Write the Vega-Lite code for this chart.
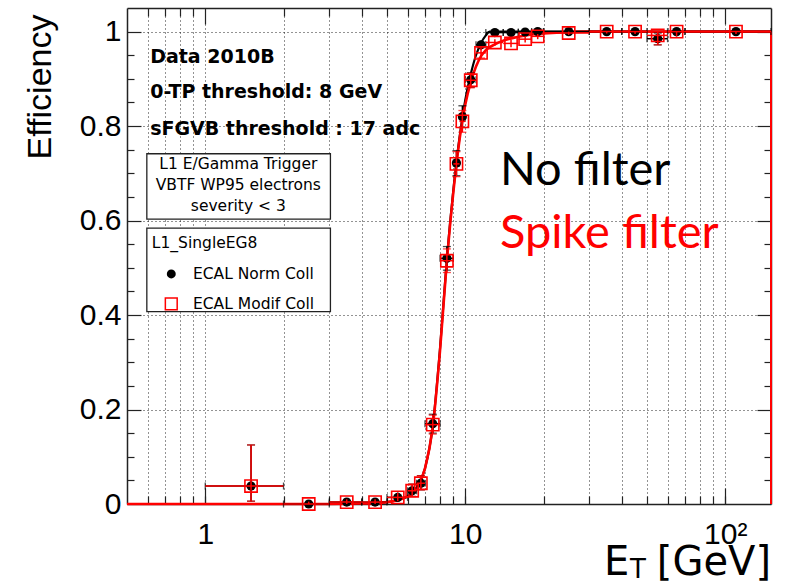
{
  "$schema": "https://vega.github.io/schema/vega-lite/v6.json",
  "width": 644,
  "height": 496,
  "autosize": {"type": "none"},
  "padding": {"left": 127, "top": 8, "right": 14, "bottom": 81},
  "background": "white",
  "config": {
    "view": {"stroke": null},
    "axis": {"labelFlush": false, "labelOverlap": false, "title": null, "tickColor": "#222", "domainColor": "#222", "domainWidth": 1.5, "tickWidth": 1.2}
  },
  "resolve": {"axis": {"x": "independent", "y": "independent"}},
  "datasets": {
    "pts": [
      {"s": "norm", "x": 1.5, "xlo": 1, "xhi": 2, "y": 0.038, "ylo": 0.006, "yhi": 0.125},
      {"s": "norm", "x": 2.5, "xlo": 2, "xhi": 3, "y": 0, "ylo": 0, "yhi": 0.005},
      {"s": "norm", "x": 3.5, "xlo": 3, "xhi": 4, "y": 0.004, "ylo": 0, "yhi": 0.01},
      {"s": "norm", "x": 4.5, "xlo": 4, "xhi": 5, "y": 0.004, "ylo": 0, "yhi": 0.01},
      {"s": "norm", "x": 5.5, "xlo": 5, "xhi": 6, "y": 0.014, "ylo": 0.006, "yhi": 0.024},
      {"s": "norm", "x": 6.25, "xlo": 6, "xhi": 6.5, "y": 0.028, "ylo": 0.016, "yhi": 0.042},
      {"s": "norm", "x": 6.75, "xlo": 6.5, "xhi": 7, "y": 0.044, "ylo": 0.03, "yhi": 0.06},
      {"s": "norm", "x": 7.5, "xlo": 7, "xhi": 8, "y": 0.17, "ylo": 0.15, "yhi": 0.19},
      {"s": "norm", "x": 8.5, "xlo": 8, "xhi": 9, "y": 0.52, "ylo": 0.495, "yhi": 0.545},
      {"s": "norm", "x": 9.25, "xlo": 9, "xhi": 9.5, "y": 0.722, "ylo": 0.695, "yhi": 0.748},
      {"s": "norm", "x": 9.75, "xlo": 9.5, "xhi": 10, "y": 0.82, "ylo": 0.797, "yhi": 0.843},
      {"s": "norm", "x": 10.5, "xlo": 10, "xhi": 11, "y": 0.898, "ylo": 0.882, "yhi": 0.913},
      {"s": "norm", "x": 11.5, "xlo": 11, "xhi": 12, "y": 0.972, "ylo": 0.962, "yhi": 0.981},
      {"s": "norm", "x": 13, "xlo": 12, "xhi": 14, "y": 0.998, "ylo": 0.993, "yhi": 1},
      {"s": "norm", "x": 15, "xlo": 14, "xhi": 16, "y": 0.998, "ylo": 0.993, "yhi": 1},
      {"s": "norm", "x": 17, "xlo": 16, "xhi": 18, "y": 0.999, "ylo": 0.995, "yhi": 1},
      {"s": "norm", "x": 19, "xlo": 18, "xhi": 20, "y": 1, "ylo": 0.996, "yhi": 1},
      {"s": "norm", "x": 25, "xlo": 20, "xhi": 30, "y": 1, "ylo": 0.997, "yhi": 1},
      {"s": "norm", "x": 35, "xlo": 30, "xhi": 40, "y": 1, "ylo": 0.996, "yhi": 1},
      {"s": "norm", "x": 45, "xlo": 40, "xhi": 50, "y": 1, "ylo": 0.995, "yhi": 1},
      {"s": "norm", "x": 55, "xlo": 50, "xhi": 60, "y": 0.985, "ylo": 0.972, "yhi": 0.997},
      {"s": "norm", "x": 65, "xlo": 60, "xhi": 70, "y": 1, "ylo": 0.99, "yhi": 1},
      {"s": "norm", "x": 110, "xlo": 70, "xhi": 150, "y": 1, "ylo": 0.995, "yhi": 1},
      {"s": "modif", "x": 1.5, "xlo": 1, "xhi": 2, "y": 0.038, "ylo": 0.006, "yhi": 0.125},
      {"s": "modif", "x": 2.5, "xlo": 2, "xhi": 3, "y": 0, "ylo": 0, "yhi": 0.005},
      {"s": "modif", "x": 3.5, "xlo": 3, "xhi": 4, "y": 0.004, "ylo": 0, "yhi": 0.01},
      {"s": "modif", "x": 4.5, "xlo": 4, "xhi": 5, "y": 0.004, "ylo": 0, "yhi": 0.01},
      {"s": "modif", "x": 5.5, "xlo": 5, "xhi": 6, "y": 0.014, "ylo": 0.006, "yhi": 0.024},
      {"s": "modif", "x": 6.25, "xlo": 6, "xhi": 6.5, "y": 0.028, "ylo": 0.016, "yhi": 0.042},
      {"s": "modif", "x": 6.75, "xlo": 6.5, "xhi": 7, "y": 0.044, "ylo": 0.03, "yhi": 0.06},
      {"s": "modif", "x": 7.5, "xlo": 7, "xhi": 8, "y": 0.168, "ylo": 0.148, "yhi": 0.188},
      {"s": "modif", "x": 8.5, "xlo": 8, "xhi": 9, "y": 0.515, "ylo": 0.49, "yhi": 0.54},
      {"s": "modif", "x": 9.25, "xlo": 9, "xhi": 9.5, "y": 0.72, "ylo": 0.693, "yhi": 0.746},
      {"s": "modif", "x": 9.75, "xlo": 9.5, "xhi": 10, "y": 0.81, "ylo": 0.787, "yhi": 0.833},
      {"s": "modif", "x": 10.5, "xlo": 10, "xhi": 11, "y": 0.897, "ylo": 0.881, "yhi": 0.912},
      {"s": "modif", "x": 11.5, "xlo": 11, "xhi": 12, "y": 0.955, "ylo": 0.944, "yhi": 0.966},
      {"s": "modif", "x": 13, "xlo": 12, "xhi": 14, "y": 0.977, "ylo": 0.97, "yhi": 0.984},
      {"s": "modif", "x": 15, "xlo": 14, "xhi": 16, "y": 0.975, "ylo": 0.967, "yhi": 0.983},
      {"s": "modif", "x": 17, "xlo": 16, "xhi": 18, "y": 0.984, "ylo": 0.977, "yhi": 0.99},
      {"s": "modif", "x": 19, "xlo": 18, "xhi": 20, "y": 0.99, "ylo": 0.984, "yhi": 0.995},
      {"s": "modif", "x": 25, "xlo": 20, "xhi": 30, "y": 0.997, "ylo": 0.993, "yhi": 1},
      {"s": "modif", "x": 35, "xlo": 30, "xhi": 40, "y": 1, "ylo": 0.996, "yhi": 1},
      {"s": "modif", "x": 45, "xlo": 40, "xhi": 50, "y": 1, "ylo": 0.995, "yhi": 1},
      {"s": "modif", "x": 55, "xlo": 50, "xhi": 60, "y": 0.992, "ylo": 0.972, "yhi": 1},
      {"s": "modif", "x": 65, "xlo": 60, "xhi": 70, "y": 1, "ylo": 0.99, "yhi": 1},
      {"s": "modif", "x": 110, "xlo": 70, "xhi": 150, "y": 1, "ylo": 0.995, "yhi": 1}
    ],
    "fits": [
      {"s": "norm", "x": 0.5, "y": 0}, {"s": "norm", "x": 1, "y": 0}, {"s": "norm", "x": 2, "y": 0},
      {"s": "norm", "x": 3, "y": 0}, {"s": "norm", "x": 4, "y": 0.001}, {"s": "norm", "x": 5, "y": 0.004},
      {"s": "norm", "x": 5.5, "y": 0.008}, {"s": "norm", "x": 6, "y": 0.016}, {"s": "norm", "x": 6.5, "y": 0.034},
      {"s": "norm", "x": 7, "y": 0.075}, {"s": "norm", "x": 7.5, "y": 0.165}, {"s": "norm", "x": 8, "y": 0.33},
      {"s": "norm", "x": 8.5, "y": 0.52}, {"s": "norm", "x": 9, "y": 0.665}, {"s": "norm", "x": 9.5, "y": 0.775},
      {"s": "norm", "x": 10, "y": 0.855}, {"s": "norm", "x": 10.5, "y": 0.91}, {"s": "norm", "x": 11, "y": 0.95},
      {"s": "norm", "x": 11.5, "y": 0.976}, {"s": "norm", "x": 12, "y": 0.992}, {"s": "norm", "x": 12.4, "y": 1},
      {"s": "norm", "x": 150, "y": 1},
      {"s": "modif", "x": 0.5, "y": 0}, {"s": "modif", "x": 1, "y": 0}, {"s": "modif", "x": 2, "y": 0},
      {"s": "modif", "x": 3, "y": 0}, {"s": "modif", "x": 4, "y": 0.001}, {"s": "modif", "x": 5, "y": 0.004},
      {"s": "modif", "x": 5.5, "y": 0.008}, {"s": "modif", "x": 6, "y": 0.016}, {"s": "modif", "x": 6.5, "y": 0.034},
      {"s": "modif", "x": 7, "y": 0.075}, {"s": "modif", "x": 7.5, "y": 0.163}, {"s": "modif", "x": 8, "y": 0.325},
      {"s": "modif", "x": 8.5, "y": 0.515}, {"s": "modif", "x": 9, "y": 0.66}, {"s": "modif", "x": 9.5, "y": 0.77},
      {"s": "modif", "x": 10, "y": 0.845}, {"s": "modif", "x": 10.5, "y": 0.893}, {"s": "modif", "x": 11, "y": 0.926},
      {"s": "modif", "x": 11.5, "y": 0.948}, {"s": "modif", "x": 12, "y": 0.961}, {"s": "modif", "x": 13, "y": 0.973},
      {"s": "modif", "x": 14, "y": 0.981}, {"s": "modif", "x": 16, "y": 0.989}, {"s": "modif", "x": 18, "y": 0.994},
      {"s": "modif", "x": 20, "y": 0.996}, {"s": "modif", "x": 25, "y": 0.999}, {"s": "modif", "x": 30, "y": 1},
      {"s": "modif", "x": 150, "y": 1}
    ],
    "edge": [{"x": 150, "y": 0, "y2": 1}],
    "boxes": [
      {"x": 0.596, "x2": 3.03, "y": 0.603, "y2": 0.7415},
      {"x": 0.596, "x2": 3.03, "y": 0.4074, "y2": 0.584}
    ],
    "headers": [
      {"t": "Data 2010B", "x": 0.614, "y": 0.934},
      {"t": "0-TP threshold: 8 GeV", "x": 0.614, "y": 0.8595},
      {"t": "sFGVB threshold : 17 adc", "x": 0.614, "y": 0.782}
    ],
    "boxtext": [
      {"t": "L1 E/Gamma Trigger", "x": 1.34, "y": 0.7095},
      {"t": "VBTF WP95 electrons", "x": 1.34, "y": 0.6638},
      {"t": "severity < 3", "x": 1.34, "y": 0.6193}
    ],
    "legendtext": [
      {"t": "L1_SingleEG8", "x": 0.623, "y": 0.5417},
      {"t": "ECAL Norm Coll", "x": 0.897, "y": 0.476},
      {"t": "ECAL Modif Coll", "x": 0.897, "y": 0.4125}
    ],
    "legendmarks": [
      {"s": "norm", "x": 0.74, "y": 0.487},
      {"s": "modif", "x": 0.74, "y": 0.4237}
    ],
    "big": [
      {"s": "norm", "t": "No filter", "x": 13.6, "y": 0.676},
      {"s": "modif", "t": "Spike filter", "x": 13.6, "y": 0.542}
    ],
    "xtitle": [
      {"part": "main", "t": "E", "x": 34.2, "y": -0.1503},
      {"part": "sub", "t": "T", "x": 43.05, "y": -0.1577},
      {"part": "unit", "t": "[GeV]", "x": 150, "y": -0.1503}
    ]
  },
  "layer": [
    {
      "data": {"name": "edge"},
      "mark": {"type": "point", "opacity": 0},
      "encoding": {
        "x": {"field": "x", "type": "quantitative", "scale": {"type": "log", "domain": [0.5, 150], "nice": false},
          "axis": {"orient": "bottom", "values": [1, 10, 100], "ticks": false, "grid": false, "domain": true,
            "labelFont": "Liberation Sans", "labelFontSize": 30, "labelColor": "#000", "labelPadding": 15, "labelAngle": 0,
            "labelExpr": "datum.value >= 100 ? '10²' : datum.value >= 10 ? '10' : '1'"}},
        "y": {"field": "y", "type": "quantitative", "scale": {"domain": [0, 1.05], "nice": false, "zero": false},
          "axis": {"orient": "left", "values": [0, 0.2, 0.4, 0.6, 0.8, 1], "ticks": false, "grid": true,
            "gridColor": "#000", "gridDash": [1, 3], "gridOpacity": 0.85, "domain": true,
            "labelFont": "Liberation Sans", "labelFontSize": 30, "labelColor": "#000", "labelPadding": 6,
            "labelExpr": "datum.value == 0 ? '0' : datum.value == 1 ? '1' : format(datum.value, '.1f')",
            "title": "Efficiency", "titleFont": "Liberation Sans", "titleFontSize": 34, "titleFontWeight": "normal",
            "titleColor": "#000", "titleAngle": -90, "titleAlign": "right", "titleBaseline": "middle", "titleX": -87, "titleY": 6}}
      }
    },
    {
      "data": {"name": "edge"},
      "mark": {"type": "point", "opacity": 0},
      "encoding": {
        "x": {"field": "x", "type": "quantitative", "scale": {"type": "log", "domain": [0.5, 150], "nice": false},
          "axis": {"orient": "bottom", "values": [1, 10, 100], "labels": false, "domain": false, "grid": false, "tickSize": -16}},
        "y": {"field": "y", "type": "quantitative", "scale": {"domain": [0, 1.05], "nice": false, "zero": false},
          "axis": {"orient": "left", "values": [0.2, 0.4, 0.6, 0.8, 1], "labels": false, "domain": false, "grid": false, "tickSize": -14}}
      }
    },
    {
      "data": {"name": "edge"},
      "mark": {"type": "point", "opacity": 0},
      "encoding": {
        "x": {"field": "x", "type": "quantitative", "scale": {"type": "log", "domain": [0.5, 150], "nice": false},
          "axis": {"orient": "bottom", "values": [0.6, 0.7, 0.8, 0.9, 1, 2, 3, 4, 5, 6, 7, 8, 9, 10, 20, 30, 40, 50, 60, 70, 80, 90, 100],
            "labels": false, "domain": false, "grid": true, "gridColor": "#000", "gridDash": [1, 3], "gridOpacity": 0.85, "tickSize": -8}},
        "y": {"field": "y", "type": "quantitative", "scale": {"domain": [0, 1.05], "nice": false, "zero": false},
          "axis": {"orient": "left", "values": [0.05, 0.1, 0.15, 0.25, 0.3, 0.35, 0.45, 0.5, 0.55, 0.65, 0.7, 0.75, 0.85, 0.9, 0.95],
            "labels": false, "domain": false, "grid": false, "tickSize": -7}}
      }
    },
    {
      "data": {"name": "edge"},
      "mark": {"type": "point", "opacity": 0},
      "encoding": {
        "x": {"field": "x", "type": "quantitative", "scale": {"type": "log", "domain": [0.5, 150], "nice": false},
          "axis": {"orient": "top", "values": [1, 10, 100], "labels": false, "domain": true, "grid": false, "tickSize": -16}},
        "y": {"field": "y", "type": "quantitative", "scale": {"domain": [0, 1.05], "nice": false, "zero": false},
          "axis": {"orient": "right", "values": [0.2, 0.4, 0.6, 0.8, 1], "labels": false, "domain": true, "grid": false, "tickSize": -14}}
      }
    },
    {
      "data": {"name": "edge"},
      "mark": {"type": "point", "opacity": 0},
      "encoding": {
        "x": {"field": "x", "type": "quantitative", "scale": {"type": "log", "domain": [0.5, 150], "nice": false},
          "axis": {"orient": "top", "values": [0.6, 0.7, 0.8, 0.9, 2, 3, 4, 5, 6, 7, 8, 9, 20, 30, 40, 50, 60, 70, 80, 90],
            "labels": false, "domain": false, "grid": false, "tickSize": -8}},
        "y": {"field": "y", "type": "quantitative", "scale": {"domain": [0, 1.05], "nice": false, "zero": false},
          "axis": {"orient": "right", "values": [0.05, 0.1, 0.15, 0.25, 0.3, 0.35, 0.45, 0.5, 0.55, 0.65, 0.7, 0.75, 0.85, 0.9, 0.95],
            "labels": false, "domain": false, "grid": false, "tickSize": -7}}
      }
    },
    {
      "data": {"name": "fits"},
      "transform": [{"filter": "datum.s == 'norm'"}],
      "mark": {"type": "line", "color": "#000", "strokeWidth": 2.2, "interpolate": "monotone"},
      "encoding": {
        "x": {"field": "x", "type": "quantitative", "scale": {"type": "log", "domain": [0.5, 150], "nice": false}, "axis": null},
        "y": {"field": "y", "type": "quantitative", "scale": {"domain": [0, 1.05], "nice": false, "zero": false}, "axis": null}
      }
    },
    {
      "data": {"name": "fits"},
      "transform": [{"filter": "datum.s == 'modif'"}],
      "mark": {"type": "line", "color": "#ff0000", "strokeWidth": 2.6, "interpolate": "monotone"},
      "encoding": {
        "x": {"field": "x", "type": "quantitative", "scale": {"type": "log", "domain": [0.5, 150], "nice": false}, "axis": null},
        "y": {"field": "y", "type": "quantitative", "scale": {"domain": [0, 1.05], "nice": false, "zero": false}, "axis": null}
      }
    },
    {
      "data": {"name": "edge"},
      "mark": {"type": "rule", "color": "#ff0000", "strokeWidth": 2},
      "encoding": {
        "x": {"field": "x", "type": "quantitative", "scale": {"type": "log", "domain": [0.5, 150], "nice": false}, "axis": null},
        "y": {"field": "y", "type": "quantitative", "scale": {"domain": [0, 1.05], "nice": false, "zero": false}, "axis": null},
        "y2": {"field": "y2"}
      }
    },
    {
      "data": {"name": "pts"},
      "transform": [{"filter": "datum.s == 'norm'"}],
      "mark": {"type": "rule", "color": "#000", "strokeWidth": 1.5},
      "encoding": {
        "x": {"field": "xlo", "type": "quantitative", "scale": {"type": "log", "domain": [0.5, 150], "nice": false}, "axis": null},
        "x2": {"field": "xhi"},
        "y": {"field": "y", "type": "quantitative", "scale": {"domain": [0, 1.05], "nice": false, "zero": false}, "axis": null}
      }
    },
    {
      "data": {"name": "pts"},
      "transform": [{"filter": "datum.s == 'norm' && datum.yhi > datum.ylo"}],
      "mark": {"type": "rule", "color": "#000", "strokeWidth": 1.5},
      "encoding": {
        "x": {"field": "x", "type": "quantitative", "scale": {"type": "log", "domain": [0.5, 150], "nice": false}, "axis": null},
        "y": {"field": "ylo", "type": "quantitative", "scale": {"domain": [0, 1.05], "nice": false, "zero": false}, "axis": null},
        "y2": {"field": "yhi"}
      }
    },
    {
      "data": {"name": "pts"},
      "transform": [{"filter": "datum.s == 'norm' && datum.yhi - datum.ylo > 0.02"}, {"fold": ["ylo", "yhi"], "as": ["k", "v"]}],
      "mark": {"type": "tick", "orient": "horizontal", "color": "#000", "size": 8, "thickness": 1.3},
      "encoding": {
        "x": {"field": "x", "type": "quantitative", "scale": {"type": "log", "domain": [0.5, 150], "nice": false}, "axis": null},
        "y": {"field": "v", "type": "quantitative", "scale": {"domain": [0, 1.05], "nice": false, "zero": false}, "axis": null}
      }
    },
    {
      "data": {"name": "pts"},
      "transform": [{"filter": "datum.s == 'norm'"}, {"fold": ["xlo", "xhi"], "as": ["k", "v"]}],
      "mark": {"type": "tick", "orient": "vertical", "color": "#000", "size": 7, "thickness": 1.3},
      "encoding": {
        "x": {"field": "v", "type": "quantitative", "scale": {"type": "log", "domain": [0.5, 150], "nice": false}, "axis": null},
        "y": {"field": "y", "type": "quantitative", "scale": {"domain": [0, 1.05], "nice": false, "zero": false}, "axis": null}
      }
    },
    {
      "data": {"name": "pts"},
      "transform": [{"filter": "datum.s == 'norm'"}],
      "mark": {"type": "point", "shape": "circle", "filled": true, "color": "#000", "size": 85, "opacity": 1},
      "encoding": {
        "x": {"field": "x", "type": "quantitative", "scale": {"type": "log", "domain": [0.5, 150], "nice": false}, "axis": null},
        "y": {"field": "y", "type": "quantitative", "scale": {"domain": [0, 1.05], "nice": false, "zero": false}, "axis": null}
      }
    },
    {
      "data": {"name": "pts"},
      "transform": [{"filter": "datum.s == 'modif'"}],
      "mark": {"type": "rule", "color": "#ff0000", "strokeWidth": 1.5},
      "encoding": {
        "x": {"field": "xlo", "type": "quantitative", "scale": {"type": "log", "domain": [0.5, 150], "nice": false}, "axis": null},
        "x2": {"field": "xhi"},
        "y": {"field": "y", "type": "quantitative", "scale": {"domain": [0, 1.05], "nice": false, "zero": false}, "axis": null}
      }
    },
    {
      "data": {"name": "pts"},
      "transform": [{"filter": "datum.s == 'modif' && datum.yhi > datum.ylo"}],
      "mark": {"type": "rule", "color": "#ff0000", "strokeWidth": 1.5},
      "encoding": {
        "x": {"field": "x", "type": "quantitative", "scale": {"type": "log", "domain": [0.5, 150], "nice": false}, "axis": null},
        "y": {"field": "ylo", "type": "quantitative", "scale": {"domain": [0, 1.05], "nice": false, "zero": false}, "axis": null},
        "y2": {"field": "yhi"}
      }
    },
    {
      "data": {"name": "pts"},
      "transform": [{"filter": "datum.s == 'modif' && datum.yhi - datum.ylo > 0.02"}, {"fold": ["ylo", "yhi"], "as": ["k", "v"]}],
      "mark": {"type": "tick", "orient": "horizontal", "color": "#ff0000", "size": 8, "thickness": 1.3},
      "encoding": {
        "x": {"field": "x", "type": "quantitative", "scale": {"type": "log", "domain": [0.5, 150], "nice": false}, "axis": null},
        "y": {"field": "v", "type": "quantitative", "scale": {"domain": [0, 1.05], "nice": false, "zero": false}, "axis": null}
      }
    },
    {
      "data": {"name": "pts"},
      "transform": [{"filter": "datum.s == 'modif'"}],
      "mark": {"type": "point", "shape": "square", "filled": false, "color": "#ff0000", "size": 150, "strokeWidth": 1.6, "opacity": 1},
      "encoding": {
        "x": {"field": "x", "type": "quantitative", "scale": {"type": "log", "domain": [0.5, 150], "nice": false}, "axis": null},
        "y": {"field": "y", "type": "quantitative", "scale": {"domain": [0, 1.05], "nice": false, "zero": false}, "axis": null}
      }
    },
    {
      "data": {"name": "headers"},
      "mark": {"type": "text", "align": "left", "baseline": "alphabetic", "font": "DejaVu Sans", "fontWeight": "bold", "fontSize": 19, "color": "#000"},
      "encoding": {
        "x": {"field": "x", "type": "quantitative", "scale": {"type": "log", "domain": [0.5, 150], "nice": false}, "axis": null},
        "y": {"field": "y", "type": "quantitative", "scale": {"domain": [0, 1.05], "nice": false, "zero": false}, "axis": null},
        "text": {"field": "t"}
      }
    },
    {
      "data": {"name": "boxes"},
      "mark": {"type": "rect", "fill": "#fff", "stroke": "#222", "strokeWidth": 1.3},
      "encoding": {
        "x": {"field": "x", "type": "quantitative", "scale": {"type": "log", "domain": [0.5, 150], "nice": false}, "axis": null},
        "x2": {"field": "x2"},
        "y": {"field": "y", "type": "quantitative", "scale": {"domain": [0, 1.05], "nice": false, "zero": false}, "axis": null},
        "y2": {"field": "y2"}
      }
    },
    {
      "data": {"name": "boxtext"},
      "mark": {"type": "text", "align": "center", "baseline": "alphabetic", "font": "DejaVu Sans", "fontSize": 15.5, "color": "#000"},
      "encoding": {
        "x": {"field": "x", "type": "quantitative", "scale": {"type": "log", "domain": [0.5, 150], "nice": false}, "axis": null},
        "y": {"field": "y", "type": "quantitative", "scale": {"domain": [0, 1.05], "nice": false, "zero": false}, "axis": null},
        "text": {"field": "t"}
      }
    },
    {
      "data": {"name": "legendtext"},
      "mark": {"type": "text", "align": "left", "baseline": "alphabetic", "font": "DejaVu Sans", "fontSize": 15.5, "color": "#000"},
      "encoding": {
        "x": {"field": "x", "type": "quantitative", "scale": {"type": "log", "domain": [0.5, 150], "nice": false}, "axis": null},
        "y": {"field": "y", "type": "quantitative", "scale": {"domain": [0, 1.05], "nice": false, "zero": false}, "axis": null},
        "text": {"field": "t"}
      }
    },
    {
      "data": {"name": "legendmarks"},
      "transform": [{"filter": "datum.s == 'norm'"}],
      "mark": {"type": "point", "shape": "circle", "filled": true, "color": "#000", "size": 80, "opacity": 1},
      "encoding": {
        "x": {"field": "x", "type": "quantitative", "scale": {"type": "log", "domain": [0.5, 150], "nice": false}, "axis": null},
        "y": {"field": "y", "type": "quantitative", "scale": {"domain": [0, 1.05], "nice": false, "zero": false}, "axis": null}
      }
    },
    {
      "data": {"name": "legendmarks"},
      "transform": [{"filter": "datum.s == 'modif'"}],
      "mark": {"type": "point", "shape": "square", "filled": false, "color": "#ff0000", "size": 140, "strokeWidth": 1.5, "opacity": 1},
      "encoding": {
        "x": {"field": "x", "type": "quantitative", "scale": {"type": "log", "domain": [0.5, 150], "nice": false}, "axis": null},
        "y": {"field": "y", "type": "quantitative", "scale": {"domain": [0, 1.05], "nice": false, "zero": false}, "axis": null}
      }
    },
    {
      "data": {"name": "big"},
      "transform": [{"filter": "datum.s == 'norm'"}],
      "mark": {"type": "text", "align": "left", "baseline": "alphabetic", "font": "Lato", "fontSize": 47, "color": "#000"},
      "encoding": {
        "x": {"field": "x", "type": "quantitative", "scale": {"type": "log", "domain": [0.5, 150], "nice": false}, "axis": null},
        "y": {"field": "y", "type": "quantitative", "scale": {"domain": [0, 1.05], "nice": false, "zero": false}, "axis": null},
        "text": {"field": "t"}
      }
    },
    {
      "data": {"name": "big"},
      "transform": [{"filter": "datum.s == 'modif'"}],
      "mark": {"type": "text", "align": "left", "baseline": "alphabetic", "font": "Lato", "fontSize": 47, "color": "#ff0000"},
      "encoding": {
        "x": {"field": "x", "type": "quantitative", "scale": {"type": "log", "domain": [0.5, 150], "nice": false}, "axis": null},
        "y": {"field": "y", "type": "quantitative", "scale": {"domain": [0, 1.05], "nice": false, "zero": false}, "axis": null},
        "text": {"field": "t"}
      }
    },
    {
      "data": {"name": "xtitle"},
      "transform": [{"filter": "datum.part == 'main'"}],
      "mark": {"type": "text", "align": "left", "baseline": "alphabetic", "font": "DejaVu Sans", "fontSize": 40, "color": "#000"},
      "encoding": {
        "x": {"field": "x", "type": "quantitative", "scale": {"type": "log", "domain": [0.5, 150], "nice": false}, "axis": null},
        "y": {"field": "y", "type": "quantitative", "scale": {"domain": [0, 1.05], "nice": false, "zero": false}, "axis": null},
        "text": {"field": "t"}
      }
    },
    {
      "data": {"name": "xtitle"},
      "transform": [{"filter": "datum.part == 'sub'"}],
      "mark": {"type": "text", "align": "left", "baseline": "alphabetic", "font": "DejaVu Sans", "fontSize": 26, "color": "#000"},
      "encoding": {
        "x": {"field": "x", "type": "quantitative", "scale": {"type": "log", "domain": [0.5, 150], "nice": false}, "axis": null},
        "y": {"field": "y", "type": "quantitative", "scale": {"domain": [0, 1.05], "nice": false, "zero": false}, "axis": null},
        "text": {"field": "t"}
      }
    },
    {
      "data": {"name": "xtitle"},
      "transform": [{"filter": "datum.part == 'unit'"}],
      "mark": {"type": "text", "align": "right", "baseline": "alphabetic", "font": "DejaVu Sans", "fontSize": 40, "color": "#000"},
      "encoding": {
        "x": {"field": "x", "type": "quantitative", "scale": {"type": "log", "domain": [0.5, 150], "nice": false}, "axis": null},
        "y": {"field": "y", "type": "quantitative", "scale": {"domain": [0, 1.05], "nice": false, "zero": false}, "axis": null},
        "text": {"field": "t"}
      }
    }
  ]
}
